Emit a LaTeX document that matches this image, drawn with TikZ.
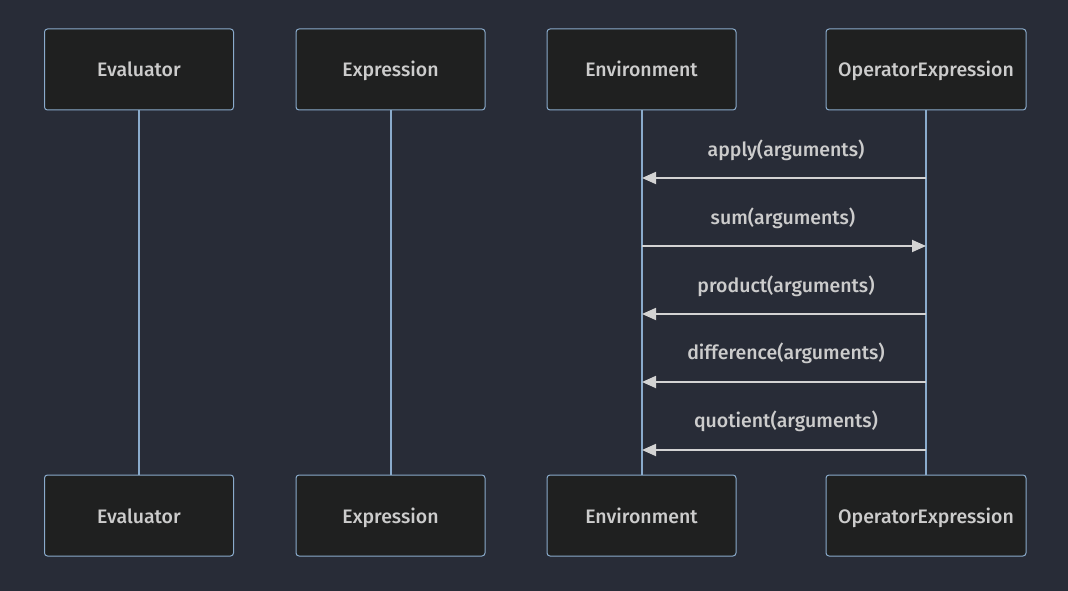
\documentclass[tikz,border=0pt]{standalone}
\usepackage{fontspec}
\setmainfont{Fira Sans Medium}
\usetikzlibrary{arrows.meta}
\definecolor{bg}{HTML}{282C37}
\definecolor{boxfill}{HTML}{1F2020}
\definecolor{boxline}{HTML}{8AABCC}
\definecolor{txt}{HTML}{CCCCCC}
\definecolor{msg}{HTML}{D3D3D3}
\tikzset{
  actor/.style={draw=boxline, line width=1pt, fill=boxfill, rounded corners=3pt,
    minimum width=189pt, minimum height=81pt, text=txt, font=\fontsize{19.5}{22}\selectfont,
    inner sep=0pt, text height=18pt, text depth=3pt},
  lifeline/.style={draw=boxline, line width=2pt},
  message/.style={draw=msg, line width=1.8pt, -{Triangle[length=14pt,width=12pt]}},
  msglabel/.style={text=txt, font=\fontsize{19.5}{22}\selectfont, inner sep=0pt, anchor=base},
}
\begin{document}
\begin{tikzpicture}[x=1pt,y=-1pt]
\fill[bg] (0,0) rectangle (1068,591);
\useasboundingbox (0,0) rectangle (1068,591);
% top actors
\node[actor] (evT) at (139,69.5) {Evaluator};
\node[actor] (exT) at (390.5,69.5) {Expression};
\node[actor] (enT) at (641.5,69.5) {Environment};
\node[actor, minimum width=200pt] (opT) at (926,69.5) {OperatorExpression};
% bottom actors
\node[actor] (evB) at (139,515.5) {Evaluator};
\node[actor] (exB) at (390.5,515.5) {Expression};
\node[actor] (enB) at (641.5,515.5) {Environment};
\node[actor, minimum width=200pt] (opB) at (926,515.5) {OperatorExpression};
% lifelines
\draw[lifeline] (evT.south) -- (evB.north);
\draw[lifeline] (exT.south) -- (exB.north);
\draw[lifeline] (enT.south) -- (enB.north);
\draw[lifeline] (opT.south) -- (opB.north);
% message anchors
\coordinate (en1) at (642,178); \coordinate (op1) at (926,178);
\coordinate (en2) at (642,246); \coordinate (op2) at (926,246);
\coordinate (en3) at (642,314); \coordinate (op3) at (926,314);
\coordinate (en4) at (642,382); \coordinate (op4) at (926,382);
\coordinate (en5) at (642,450); \coordinate (op5) at (926,450);
% messages
\draw[message] (op1) -- (en1);
\node[msglabel] (l1) at (786,157) {apply(arguments)};
\draw[message] (en2) -- (op2);
\node[msglabel] (l2) at (783,224.5) {sum(arguments)};
\draw[message] (op3) -- (en3);
\node[msglabel] (l3) at (786,292) {product(arguments)};
\draw[message] (op4) -- (en4);
\node[msglabel] (l4) at (786,359.5) {difference(arguments)};
\draw[message] (op5) -- (en5);
\node[msglabel] (l5) at (786,427) {quotient(arguments)};
\end{tikzpicture}
\end{document}
